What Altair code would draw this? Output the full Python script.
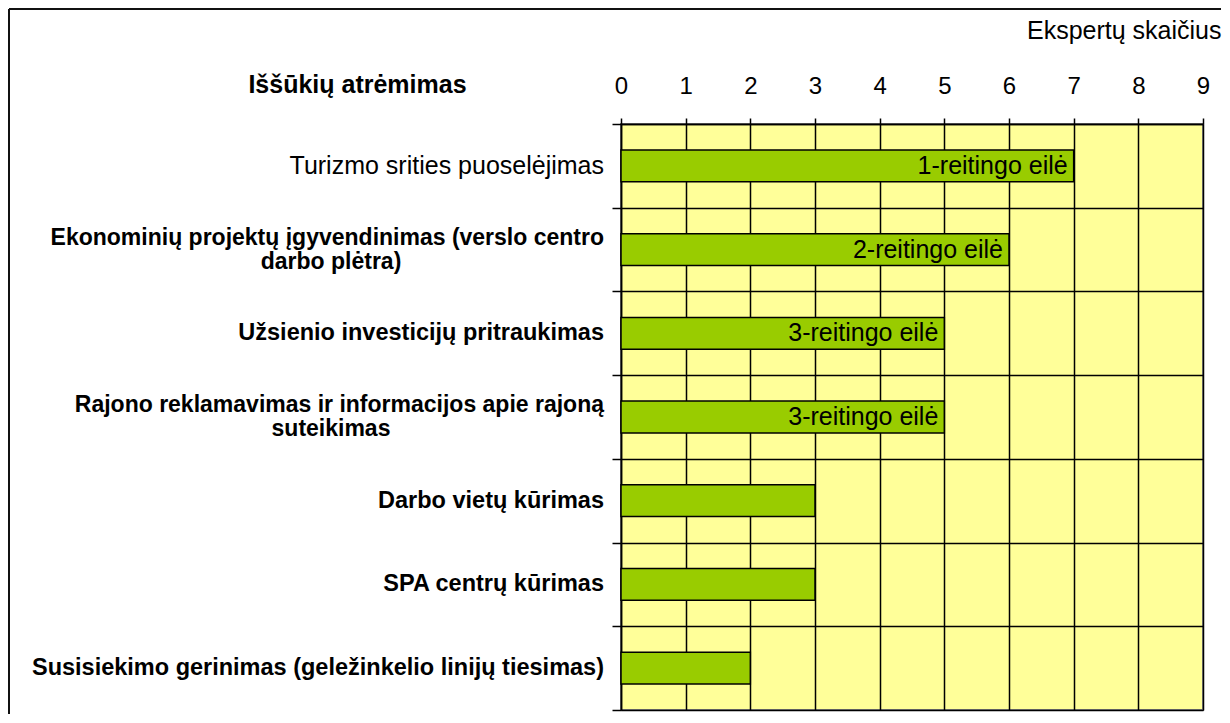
import altair as alt
import pandas as pd

categories = [
    "Turizmo srities puoselėjimas",
    "Ekonominių projektų įgyvendinimas (verslo centro\ndarbo plėtra)",
    "Užsienio investicijų pritraukimas",
    "Rajono reklamavimas ir informacijos apie rajoną\nsuteikimas",
    "Darbo vietų kūrimas",
    "SPA centrų kūrimas",
    "Susisiekimo gerinimas (geležinkelio linijų tiesimas)",
]
values = [7, 6, 5, 5, 3, 3, 2]
rank_labels = ["1-reitingo eilė", "2-reitingo eilė", "3-reitingo eilė", "3-reitingo eilė", "", "", ""]
bold_flags = [False, True, True, True, True, True, True]
x_ticks = list(range(10))

df = pd.DataFrame({"cat": categories, "value": values, "rank": rank_labels, "bold": bold_flags})

FONT = "Liberation Sans"
W, H = 582, 586

x_axis = alt.Axis(
    orient="top", values=x_ticks, format="d", tickSize=6, tickColor="black", tickWidth=1.5,
    domainColor="black", domainWidth=1.5, labelFontSize=24, labelPadding=20, labelColor="black",
    labelFlush=False, labelAngle=0, labelOverlap=False, labelFont=FONT,
    grid=True, gridColor="black", gridWidth=1.5, gridOpacity=1,
    title="Ekspertų skaičius", titleX=600, titleY=-86, titleAlign="right",
    titleBaseline="alphabetic", titleFontSize=25, titleFontWeight="normal",
    titleColor="black", titleFont=FONT,
)

y_axis = alt.Axis(
    tickBand="extent", tickSize=9, tickColor="black", tickWidth=1.5,
    domainColor="black", domainWidth=1.5, labels=False,
    grid=True, gridColor="black", gridWidth=1.5, gridOpacity=1,
    title="Iššūkių atrėmimas", titleAngle=0, titleX=-264, titleY=-32, titleAlign="center",
    titleBaseline="alphabetic", titleFontSize=25, titleFontWeight="bold",
    titleColor="black", titleFont=FONT,
)

y_enc = alt.Y("cat:N", sort=categories, axis=y_axis,
              scale=alt.Scale(paddingInner=0, paddingOuter=0))

base = alt.Chart(df).encode(
    x=alt.X("value:Q", axis=x_axis, scale=alt.Scale(domain=[0, 9], nice=False)),
    y=y_enc,
)

bars = base.mark_bar(color="#99CC00", stroke="black", strokeWidth=1.5,
                     height={"band": 0.38})

texts = base.transform_filter("datum.rank != ''").mark_text(
    align="right", baseline="middle", dx=-6, fontSize=25, font=FONT, color="black"
).encode(text="rank:N")

# category labels, drawn as text beside the axis
lab = alt.Chart(df).transform_calculate(
    line1="split(datum.cat, '\\n')[0]",
    line2="split(datum.cat, '\\n')[1]",
    multi="indexof(datum.cat, '\\n') >= 0",
)

lab_normal = lab.transform_filter("!datum.bold").mark_text(
    align="right", baseline="middle", fontSize=25, font=FONT, color="black"
).encode(x=alt.value(-17), y=y_enc, text="line1:N")

lab_bold = lab.transform_filter("datum.bold && !datum.multi").mark_text(
    align="right", baseline="middle", fontSize=23.5, fontWeight="bold", font=FONT, color="black"
).encode(x=alt.value(-17), y=y_enc, text="line1:N")

lab_bold_first = lab.transform_filter("datum.bold && datum.multi").mark_text(
    align="right", baseline="middle", dy=-12, fontSize=23, fontWeight="bold", font=FONT, color="black"
).encode(x=alt.value(-17), y=y_enc, text="line1:N")

lab_bold_second = lab.transform_filter("datum.bold && datum.multi").mark_text(
    align="center", baseline="middle", dy=12, fontSize=23, fontWeight="bold", font=FONT, color="black"
).encode(x=alt.value(-290), y=y_enc, text="line2:N")

frame_data = alt.Data(values=[{"k": 1}])
top_rule = alt.Chart(frame_data).mark_rule(color="#111111", strokeWidth=2).encode(
    x=alt.value(-612), x2=alt.value(600), y=alt.value(-115)
)
left_rule = alt.Chart(frame_data).mark_rule(color="#111111", strokeWidth=2).encode(
    x=alt.value(-612), y=alt.value(-115), y2=alt.value(H + 4)
)

chart = alt.layer(
    bars, texts, lab_normal, lab_bold, lab_bold_first, lab_bold_second, top_rule, left_rule
).properties(
    width=W, height=H, padding=0, background="white"
).configure(
    font=FONT
).configure_view(
    fill="#FFFF99", stroke="#808080", strokeWidth=2
)

chart.save("out.html", embed_options={"renderer": "svg", "actions": False})
